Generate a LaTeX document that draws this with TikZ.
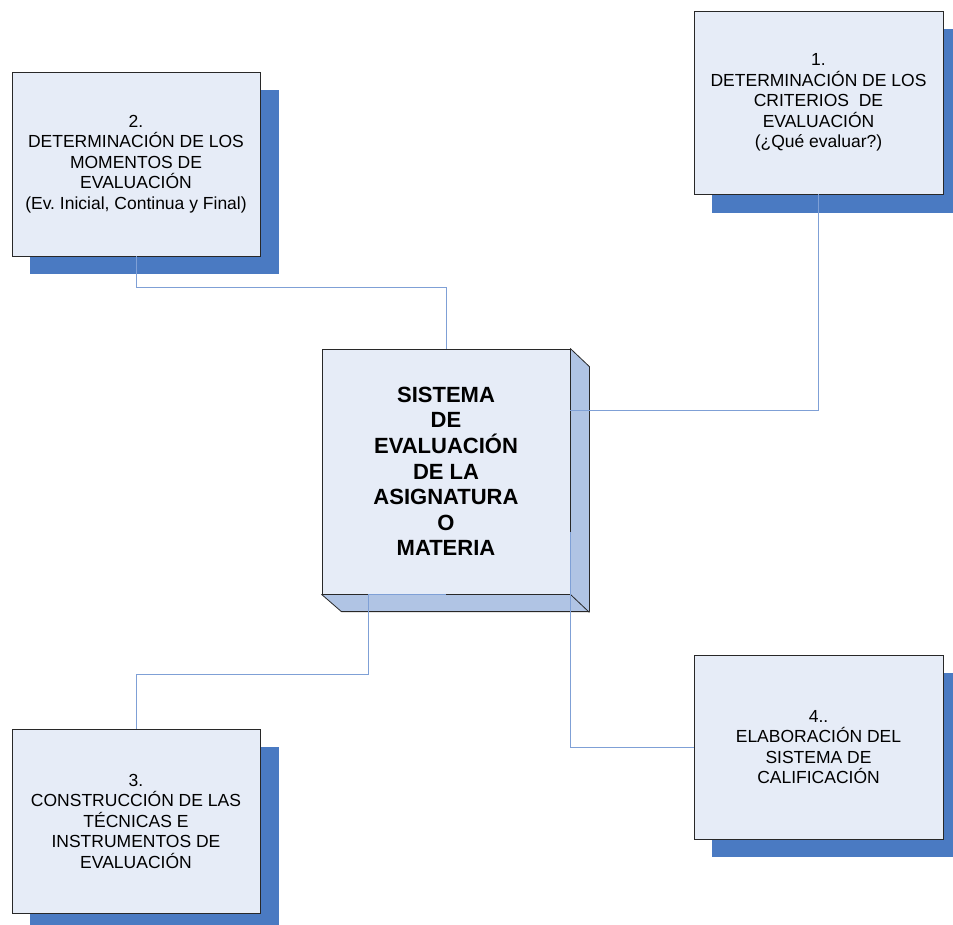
\documentclass[tikz,border=0pt]{standalone}
\usepackage{fontspec}
\setmainfont{Liberation Sans}
\frenchspacing
\definecolor{shadowblue}{RGB}{74,122,194}
\definecolor{facefill}{RGB}{230,236,247}
\definecolor{sidefill}{RGB}{176,196,228}
\definecolor{linkblue}{RGB}{127,160,214}
\definecolor{edgegray}{RGB}{40,40,40}
\begin{document}
\begin{tikzpicture}[x=1pt,y=-1pt,
  boxstyle/.style={draw=edgegray, line width=0.8pt, fill=facefill,
    minimum width=248pt, minimum height=184pt, inner sep=0pt, align=center,
    font=\fontsize{17.5}{20.5}\selectfont},
  shadowbox/.style={fill=shadowblue, draw=none, minimum width=249pt,
    minimum height=184pt, inner sep=0pt},
  link/.style={draw=linkblue, line width=0.9pt}]
\useasboundingbox (0,0) rectangle (953,924);
\clip (0,0) rectangle (953,924);
\fill[white] (0,0) rectangle (953,924);

% shadows
\node[shadowbox] (s2) at (154.5,182) {};
\node[shadowbox] (s1) at (836.5,120.5) {};
\node[shadowbox] (s3) at (154.5,839) {};
\node[shadowbox] (s4) at (836.5,765) {};

% boxes
\node[boxstyle] (b2) at (136,164) {2.\\DETERMINACIÓN DE LOS\\MOMENTOS DE\\EVALUACIÓN\\(Ev. Inicial, Continua y Final)};
\node[boxstyle, minimum width=249pt, minimum height=183pt] (b1) at (818.5,102.5) {1.\\DETERMINACIÓN DE LOS\\CRITERIOS\ \ DE\\EVALUACIÓN\\(¿Qué evaluar?)};
\node[boxstyle] (b3) at (136,821) {3.\\CONSTRUCCIÓN DE LAS\\TÉCNICAS E\\INSTRUMENTOS DE\\EVALUACIÓN};
\node[boxstyle, minimum width=249pt] (b4) at (818.5,747) {4..\\ELABORACIÓN DEL\\SISTEMA DE\\CALIFICACIÓN};

% central 3D box
\node[draw=edgegray, line width=0.8pt, fill=facefill, minimum width=248pt,
  minimum height=245pt, inner sep=0pt, align=center,
  font=\fontsize{22}{25.6}\selectfont\bfseries] (c) at (446,471.5)
  {SISTEMA\\DE\\EVALUACIÓN\\DE LA\\ASIGNATURA\\O\\MATERIA};
\filldraw[fill=sidefill, draw=edgegray, line width=0.8pt, line join=round]
  (c.north east) -- ++(19,18) -- ++(0,245) -- ++(-248,0) -- (c.south west) -- (c.south east) -- cycle;
\draw[edgegray, line width=0.8pt] (c.south east) -- ++(19,18);

% connectors
\coordinate (y287) at (0,287);
\coordinate (y410) at (0,410);
\coordinate (y532) at (0,532);
\coordinate (k3) at (368,674);
\draw[link] (b2.south) |- (c.north |- y287) -- (c.north);
\draw[link] (b1.south) |- (c.east |- y410);
\draw[link] (c.south) -- (c.south -| k3) -- (k3) -| (b3.north);
\draw[link] (c.east |- y532) |- (b4.west);
\end{tikzpicture}
\end{document}
